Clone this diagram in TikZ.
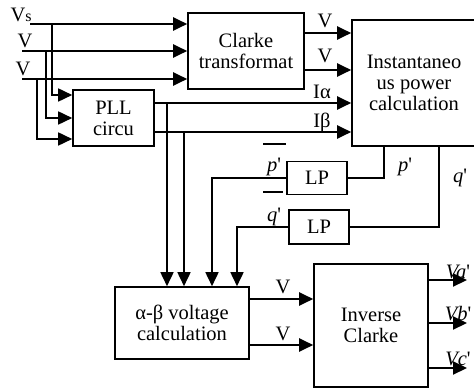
\documentclass[tikz,border=0pt]{standalone}
\usepackage{fontspec}
\setmainfont{Liberation Serif}
\usetikzlibrary{arrows.meta, positioning, calc}
\tikzset{
  every picture/.style={line width=1.3pt},
  box/.style={draw, align=center, inner sep=0pt, line width=1.6pt, font=\fontsize{20.5}{21}\selectfont},
  arrow/.style={-{Triangle[length=14pt, width=13pt]}, line width=2.2pt},
  drop/.style={arrow, line width=1.7pt},
  feed/.style={line width=1.3pt},
  lbl/.style={inner sep=0pt, font=\fontsize{20.5}{21}\selectfont},
  bar/.style={line width=1.8pt},
}

\begin{document}
\begin{tikzpicture}[x=1pt, y=-1pt]
  \clip (0,0) rectangle (474,390);
  \newcommand{\pr}{\textquotesingle}

  % blocks
  \node[box, minimum width=116pt, minimum height=76pt]  (clarke)   at (246,51)    {Clarke\\transformat};
  \node[box, minimum width=81pt,  minimum height=56pt]  (pll)      at (113.5,118) {PLL\\circu};
  \node[box, minimum width=124pt, minimum height=126pt] (inst)     at (414,83)    {Instantaneo\\us power\\calculation};
  \node[box, minimum width=60pt,  minimum height=33pt]  (lp1)      at (317,178)   {LP};
  \node[box, minimum width=60pt,  minimum height=34pt]  (lp2)      at (319,227)   {LP};
  \node[box, minimum width=134pt, minimum height=72pt]  (ab)       at (182,323)   {α-β voltage\\calculation};
  \node[box, minimum width=114pt, minimum height=123pt] (iclarke)  at (371,325.5) {Inverse\\Clarke};

  % inputs
  \coordinate (vs) at (30,24);
  \coordinate (va) at (22,51);
  \coordinate (vb) at (22,79);
  \node[lbl, anchor=base west] (vsl) at (10,22) {V{\fontsize{16}{16}\selectfont s}};
  \node[lbl, anchor=base west] (val) at (17,48) {V};
  \node[lbl, anchor=base west] (vbl) at (15,76) {V};
  \draw[arrow] (vs) -- (vs -| clarke.west);
  \draw[arrow] (va) -- (va -| clarke.west);
  \draw[arrow] (vb) -- (vb -| clarke.west);
  \coordinate (js) at (52,24);
  \coordinate (ja) at (46,51);
  \coordinate (jb) at (37,79);
  \draw[drop] (js) |- ([yshift=23pt]pll.west);
  \draw[drop] (ja) |- (pll.west);
  \draw[drop] (jb) |- ([yshift=-21pt]pll.west);

  % clarke to power block
  \coordinate (c1) at ([yshift=18pt]clarke.east);
  \coordinate (c2) at ([yshift=-19pt]clarke.east);
  \draw[arrow] (c1) -- (c1 -| inst.west);
  \draw[arrow] (c2) -- (c2 -| inst.west);
  \node[lbl, anchor=base] (cv1) at (325,28) {V};
  \node[lbl, anchor=base] (cv2) at (325,63) {V};

  % pll outputs
  \coordinate (pa) at ([yshift=15pt]pll.east);
  \coordinate (pb) at ([yshift=-14pt]pll.east);
  \draw[arrow] (pa) -- (pa -| inst.west);
  \draw[arrow] (pb) -- (pb -| inst.west);
  \node[lbl, anchor=base] (ial) at (322,99)  {Iα};
  \node[lbl, anchor=base] (ibl) at (322,128) {Iβ};
  \coordinate (ta) at (167,103);
  \coordinate (tb) at (184,132);
  \draw[drop] (ta) -- (ta |- ab.north);
  \draw[drop] (tb) -- (tb |- ab.north);

  % low-pass loop
  \coordinate (ip) at (384,146);
  \coordinate (iq) at (439,146);
  \draw[feed] (ip) |- (lp1.east);
  \draw[feed] (iq) |- (lp2.east);
  \node[lbl, anchor=base] (ipl) at (405,172) {\itshape p\upshape\pr};
  \node[lbl, anchor=base] (iql) at (460,183) {\itshape q\upshape\pr};
  \coordinate (pd) at (212,178);
  \coordinate (qd) at (237,227);
  \draw[drop] (lp1.west) -| (pd |- ab.north);
  \draw[drop] (lp2.west) -| (qd |- ab.north);
  \node[lbl, anchor=base] (pm) at (274,172) {\itshape p\upshape\pr};
  \node[lbl, anchor=base] (qm) at (274,222) {\itshape q\upshape\pr};
  \draw[bar] ([shift={(-11pt,28pt)}]pm.base) -- ++(23,0);
  \draw[bar] ([shift={(-11pt,30pt)}]qm.base) -- ++(20,0);

  % outputs
  \coordinate (o1) at ([yshift=24pt]ab.east);
  \coordinate (o2) at ([yshift=-22pt]ab.east);
  \draw[arrow] (o1) -- (o1 -| iclarke.west);
  \draw[arrow] (o2) -- (o2 -| iclarke.west);
  \node[lbl, anchor=base] (ov1) at (283,293) {V};
  \node[lbl, anchor=base] (ov2) at (283,340) {V};
  \coordinate (e1) at (467,280);
  \coordinate (e2) at (467,323);
  \coordinate (e3) at (467,368);
  \draw[arrow] (e1 -| iclarke.east) -- (e1);
  \draw[arrow] (e2 -| iclarke.east) -- (e2);
  \draw[arrow] (e3 -| iclarke.east) -- (e3);
  \node[lbl, anchor=base] (eal) at (458,278) {\itshape Va\upshape\pr};
  \node[lbl, anchor=base] (ebl) at (458,320) {\itshape Vb\upshape\pr};
  \node[lbl, anchor=base] (ecl) at (458,365) {\itshape Vc\upshape\pr};
\end{tikzpicture}
\end{document}
